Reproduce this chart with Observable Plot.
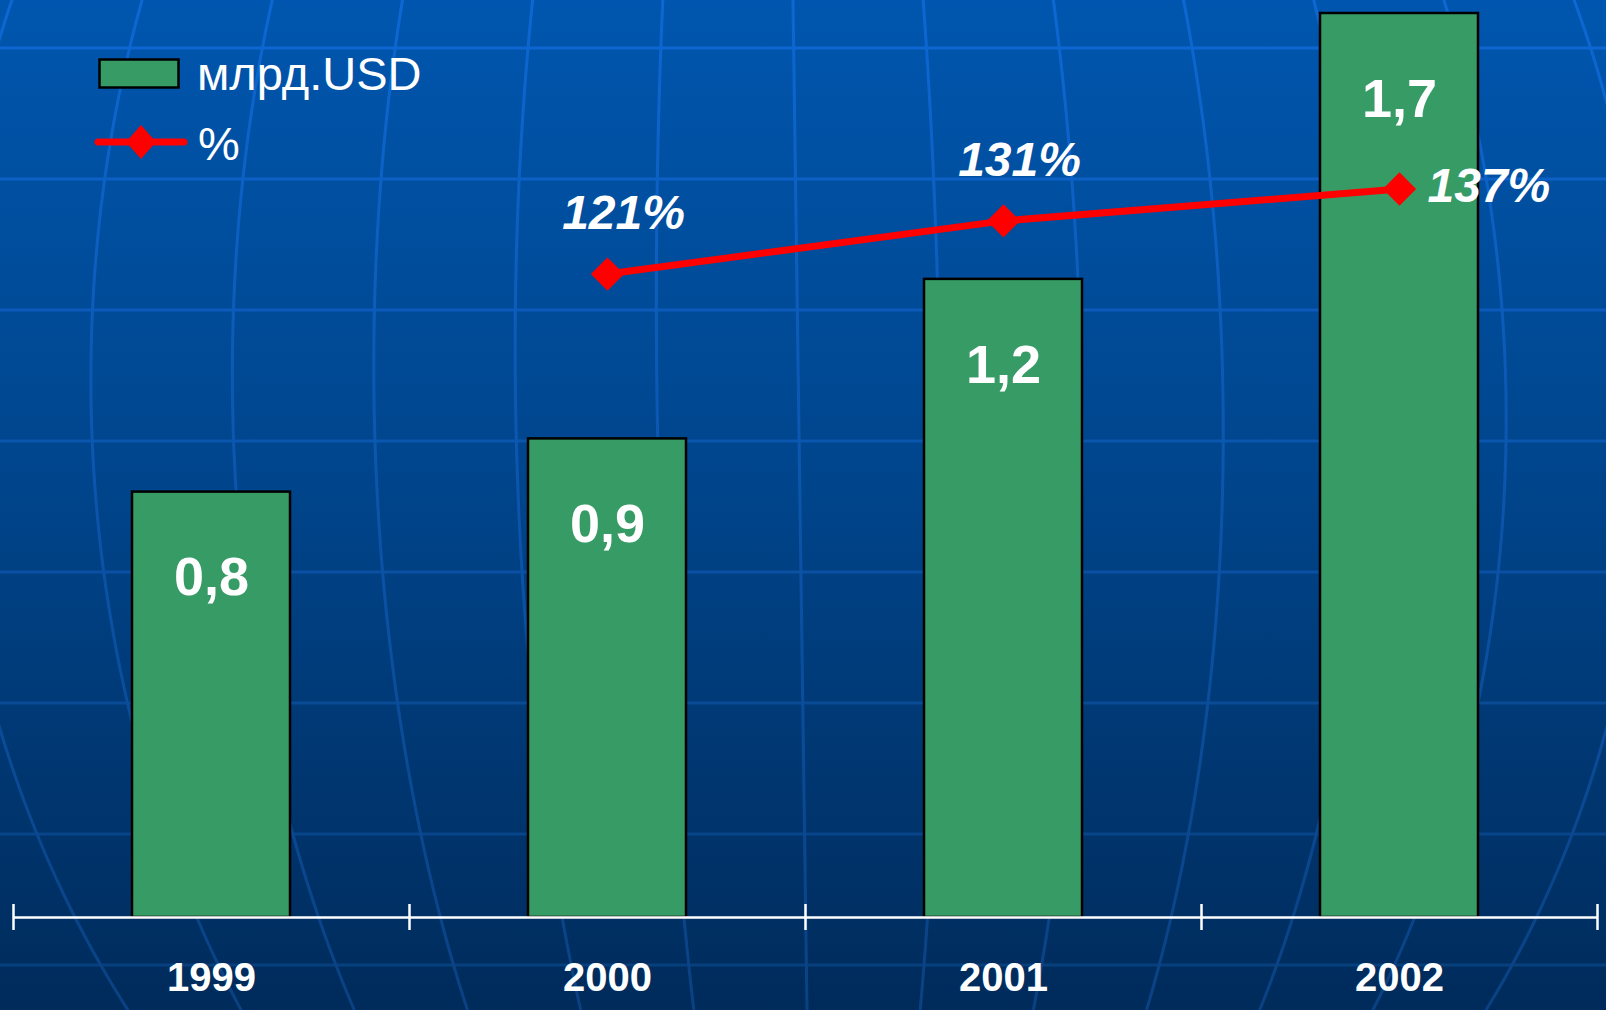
<!DOCTYPE html>
<html><head><meta charset="utf-8">
<script src="https://cdn.jsdelivr.net/npm/d3@7"></script>
<script src="https://cdn.jsdelivr.net/npm/@observablehq/plot@0.6"></script>
<style>
html,body{margin:0;padding:0;overflow:hidden;background:#003a78;}
#wrap{position:relative;width:1606px;height:1010px;font-family:"Liberation Sans",Arial,sans-serif;}
#bg,#chart,#legend{position:absolute;left:0;top:0;}
</style></head>
<body><div id="wrap"><svg id="bg" width="1606" height="1010"></svg><div id="chart"></div><svg id="legend" width="460" height="190"></svg></div>
<script>
// ---- data ----
const years = ["1999", "2000", "2001", "2002"];
const valuesUSD = [0.8, 0.9, 1.2, 1.7];
const growthYears = ["2000", "2001", "2002"];
const growthPct = [121, 131, 137];
const seriesNames = ["млрд.USD", "%"];

const W = 1606, H = 1010;
const FONT = '"Liberation Sans", Arial, sans-serif';
const GREEN = "#379b66", RED = "#ff0000";

// ---- decorative globe background ----
const bg = d3.select("#bg");
const defs = bg.append("defs");
const bgGrad = defs.append("linearGradient").attr("id", "bgGrad")
  .attr("x1", 0).attr("y1", 0).attr("x2", 0).attr("y2", 1);
[[0, "#0056ae"], [0.45, "#00468e"], [1, "#002b5b"]].forEach(([o, c]) =>
  bgGrad.append("stop").attr("offset", o).attr("stop-color", c));
const lnGrad = defs.append("linearGradient").attr("id", "lnGrad")
  .attr("gradientUnits", "userSpaceOnUse").attr("x1", 0).attr("y1", 0).attr("x2", 0).attr("y2", H);
[[0, "#0d68d4"], [1, "#0a4182"]].forEach(([o, c]) =>
  lnGrad.append("stop").attr("offset", o).attr("stop-color", c));
bg.append("rect").attr("width", W).attr("height", H).attr("fill", "url(#bgGrad)");
const lineCol = d3.interpolateRgb("#0e68d6", "#083e7a");
d3.range(8).forEach(k => {
  const y = 48 + 131 * k;
  bg.append("line").attr("x1", 0).attr("x2", W).attr("y1", y).attr("y2", y)
    .attr("stroke", lineCol(y / H)).attr("stroke-width", 3);
});
const cy = 399, R = 1018;
const meridian = d3.line();
d3.range(-6, 7).forEach(k => {
  const pts = d3.range(-10, H + 20, 10).map(y => {
    const cx = 793 + 14 * y / H;
    const t = (y - cy) / R;
    return [cx + k * 141.5 * Math.sqrt(Math.max(0, 1 - t * t)), y];
  });
  bg.append("path").attr("d", meridian(pts)).attr("fill", "none")
    .attr("stroke", "url(#lnGrad)").attr("stroke-width", 3);
});

// ---- chart ----
const bars = years.map((year, i) => ({year, value: valuesUSD[i]}));
const growth = growthYears.map((year, i) => ({year, pct: growthPct[i]}));
const fmt = v => v.toFixed(1).replace(".", ",");
const ML = 13, MR = 9, MT = 13, MB = 93;
const step = (W - ML - MR) / years.length;
const pctY = d => d.pct / 100;

const chart = Plot.plot({
  width: W, height: H,
  marginLeft: ML, marginRight: MR, marginTop: MT, marginBottom: MB,
  style: {background: "transparent", fontFamily: FONT, overflow: "visible"},
  x: {type: "band", domain: years, paddingInner: 0.6, paddingOuter: 0.3, axis: null},
  y: {domain: [0, 1.7], axis: null},
  marks: [
    Plot.barY(bars, {x: "year", y: "value", fill: GREEN, stroke: "#000", strokeWidth: 2.5}),
    Plot.ruleY([0], {stroke: "white", strokeWidth: 2.5}),
    Plot.ruleX(years, {x: d => d, y1: 0, y2: 0, dx: -step / 2, insetTop: 13, insetBottom: 13, stroke: "white", strokeWidth: 2.5}),
    Plot.ruleX(years.slice(-1), {x: d => d, y1: 0, y2: 0, dx: step / 2, insetTop: 13, insetBottom: 13, stroke: "white", strokeWidth: 2.5}),
    Plot.text(bars, {x: "year", y: "value", text: d => fmt(d.value), dy: 86, fill: "white", fontSize: 54, fontWeight: "bold"}),
    Plot.text(bars, {x: "year", y: 0, text: "year", dy: 61, fill: "white", fontSize: 40, fontWeight: "bold"}),
    Plot.line(growth, {x: "year", y: pctY, stroke: RED, strokeWidth: 7}),
    Plot.dot(growth, {x: "year", y: pctY, symbol: "diamond2", r: 15, fill: RED}),
    Plot.text(growth.slice(0, 2), {x: "year", y: pctY, text: d => d.pct + "%", dx: 16, dy: -60,
      fill: "white", fontSize: 48, fontWeight: "bold", fontStyle: "italic"}),
    Plot.text(growth.slice(2), {x: "year", y: pctY, text: d => d.pct + "%", dx: 28, dy: -2, textAnchor: "start",
      fill: "white", fontSize: 48, fontWeight: "bold", fontStyle: "italic"})
  ]
});
document.getElementById("chart").appendChild(chart);

// ---- legend (overlaid top-left) ----
const lg = d3.select("#legend");
lg.append("rect").attr("x", 99.5).attr("y", 59.5).attr("width", 79).attr("height", 28)
  .attr("fill", GREEN).attr("stroke", "#000").attr("stroke-width", 2.5);
lg.append("text").attr("x", 197).attr("y", 90).text(seriesNames[0])
  .attr("fill", "white").attr("font-size", 47).attr("font-family", FONT);
lg.append("line").attr("x1", 98).attr("x2", 184).attr("y1", 142).attr("y2", 142)
  .attr("stroke", RED).attr("stroke-width", 7).attr("stroke-linecap", "round");
lg.append("path").attr("d", "M141,125L156,142L141,159L126,142Z").attr("fill", RED);
lg.append("text").attr("x", 198).attr("y", 160).text(seriesNames[1])
  .attr("fill", "white").attr("font-size", 47).attr("font-family", FONT);
</script>
</body></html>
